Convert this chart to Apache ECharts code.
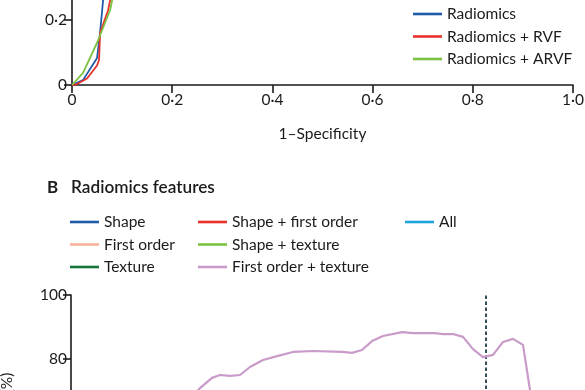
<!DOCTYPE html>
<html><head><meta charset="utf-8">
<script src="https://cdn.jsdelivr.net/npm/echarts@6/dist/echarts.min.js"></script>
<style>html,body{margin:0;padding:0;background:#fff}#c{width:585px;height:390px}</style>
</head><body><div id="c"></div>
<script>
// Panel A: ROC curves (x = 1-specificity, y = sensitivity)
const rocNames = ['Radiomics', 'Radiomics + RVF', 'Radiomics + ARVF'];
const rocRadiomics = [[0,0],[0.022,0.015],[0.05,0.083],[0.056,0.16],[0.062,0.26],[0.07,0.45],[0.09,0.7],[0.15,0.85],[0.3,0.93],[0.6,0.98],[1,1]];
const rocRVF = [[0,0],[0.01,0.003],[0.03,0.02],[0.05,0.06],[0.054,0.077],[0.056,0.16],[0.072,0.23],[0.076,0.26],[0.085,0.5],[0.1,0.75],[0.17,0.88],[0.35,0.95],[0.7,0.99],[1,1]];
const rocARVF = [[0,0],[0.022,0.037],[0.05,0.13],[0.076,0.23],[0.08,0.26],[0.09,0.5],[0.11,0.76],[0.18,0.89],[0.4,0.96],[0.75,0.99],[1,1]];
const rocTicks = [0, 0.2, 0.4, 0.6, 0.8, 1.0];

// Panel B: radiomics feature sets
const featureNames = ['Shape', 'First order', 'Texture', 'Shape + first order', 'Shape + texture', 'First order + texture', 'All'];
const featureColors = ['#1f5ca8', '#f7b49a', '#17773a', '#e8312b', '#7cc242', '#c99bc9', '#1fa3d9'];
const fotX = [12.0, 12.9, 14.1, 14.9, 15.9, 16.9, 17.9, 19.2, 20.6, 22.2, 24.2, 27.2, 28.1, 29.1, 30.1, 31.2, 33.1, 34.2, 36.4, 37.2, 38.2, 39.2, 40.2, 41.2, 42.2, 43.2, 44.2, 45.2, 45.9, 46.5];
const fotY = [67.8, 70.9, 74.1, 75.0, 74.7, 75.0, 77.5, 79.7, 80.9, 82.2, 82.5, 82.2, 81.9, 82.8, 85.6, 87.2, 88.4, 88.1, 88.1, 87.8, 87.8, 86.9, 83.1, 80.6, 81.3, 85.3, 86.3, 84.4, 70.3, 55.0];
const selectedFeatures = 41.5;
const cutoffRange = [20, 100.5];
const bTicks = [20, 40, 60, 80, 100];

const fmt = v => (v === 0 ? '0' : v.toFixed(1).replace('.', '\u00b7'));
const FONT = 'Lato';
const txt = '#1c1a1b';

const chart = echarts.init(document.getElementById('c'), null, {renderer: 'canvas'});
const axisLine = {lineStyle: {color: txt, width: 1.6}};
const axisTick = {show: true, length: 8, lineStyle: {color: txt, width: 1.6}};
const label = {color: txt, fontSize: 15.5, fontFamily: FONT};

const legendBase = {orient: 'vertical', icon: 'rect', itemWidth: 29, itemHeight: 2.6, itemGap: 6.5, padding: 0,
  textStyle: {color: txt, fontSize: 15.5, fontFamily: FONT}, selectedMode: false};

const series = [
  {name: rocNames[0], type: 'line', xAxisIndex: 0, yAxisIndex: 0, data: rocRadiomics, showSymbol: false, lineStyle: {color: '#1f5ca8', width: 1.8}, itemStyle: {color: '#1f5ca8'}},
  {name: rocNames[1], type: 'line', xAxisIndex: 0, yAxisIndex: 0, data: rocRVF, showSymbol: false, lineStyle: {color: '#e8312b', width: 1.8}, itemStyle: {color: '#e8312b'}},
  {name: rocNames[2], type: 'line', xAxisIndex: 0, yAxisIndex: 0, data: rocARVF, showSymbol: false, lineStyle: {color: '#7cc242', width: 1.8}, itemStyle: {color: '#7cc242'}}
];
featureNames.forEach((n, i) => {
  series.push({name: n, type: 'line', xAxisIndex: 1, yAxisIndex: 1, showSymbol: false,
    lineStyle: {color: featureColors[i], width: 2.2}, itemStyle: {color: featureColors[i]},
    data: n === 'First order + texture' ? fotX.map((x, k) => [x, fotY[k]]) : []});
});
// selected number of features (dashed cut-off)
series.push({name: 'cutoff', type: 'line', xAxisIndex: 1, yAxisIndex: 1, showSymbol: false, silent: true, z: 1,
  lineStyle: {color: '#35505c', width: 2, type: [3.5, 2.5]},
  data: cutoffRange.map(v => [selectedFeatures, v])});

chart.setOption({
  animation: false,
  backgroundColor: '#fff',
  title: {left: 47, top: 179, padding: 0, text: '{b|B}{t|   Radiomics features}',
    textStyle: {rich: {b: {fontSize: 17, fontWeight: 'bold', fontFamily: FONT, color: txt}, t: {fontSize: 17.2, fontWeight: 600, fontFamily: FONT, color: txt}}}},
  legend: [
    Object.assign({}, legendBase, {left: 413, top: 6, data: rocNames}),
    Object.assign({}, legendBase, {left: 70, top: 214, data: featureNames.slice(0, 3)}),
    Object.assign({}, legendBase, {left: 198, top: 214, data: featureNames.slice(3, 6)}),
    Object.assign({}, legendBase, {left: 405, top: 214, data: featureNames.slice(6)})
  ],
  grid: [
    {left: 72, width: 501, top: -240, height: 325, outerBoundsMode: 'none', containLabel: false},
    {left: 71, width: 500, top: 295, height: 256, outerBoundsMode: 'none', containLabel: false}
  ],
  xAxis: [
    {gridIndex: 0, type: 'value', min: 0, max: 1, interval: 0.2, splitLine: {show: false}, axisLine, axisTick,
      axisLabel: Object.assign({}, label, {margin: 7, formatter: fmt, showMaxLabel: true}),
      name: '1\u2013Specificity', nameLocation: 'middle', nameGap: 41, nameTextStyle: {color: txt, fontSize: 15.5, fontFamily: FONT}},
    {gridIndex: 1, type: 'value', min: 0, max: 50, interval: 10, splitLine: {show: false}, axisLine, axisTick, axisLabel: label}
  ],
  yAxis: [
    {gridIndex: 0, type: 'value', min: 0, max: 1, interval: 0.2, splitLine: {show: false}, axisLine, axisTick,
      axisLabel: Object.assign({}, label, {margin: 5, formatter: fmt}),
      name: 'Sensitivity', nameLocation: 'middle', nameGap: 45, nameTextStyle: {color: txt, fontSize: 15.5, fontFamily: FONT}},
    {gridIndex: 1, type: 'value', min: bTicks[0], max: bTicks[bTicks.length - 1], interval: 20, splitLine: {show: false}, axisLine, axisTick,
      axisLabel: Object.assign({}, label, {margin: 4}),
      name: 'Accuracy (%)', nameLocation: 'middle', nameGap: 56,
      nameTextStyle: {color: txt, fontSize: 15.5, fontFamily: FONT, padding: [0, 0, 0, 14]}}
  ],
  series
});
</script></body></html>
